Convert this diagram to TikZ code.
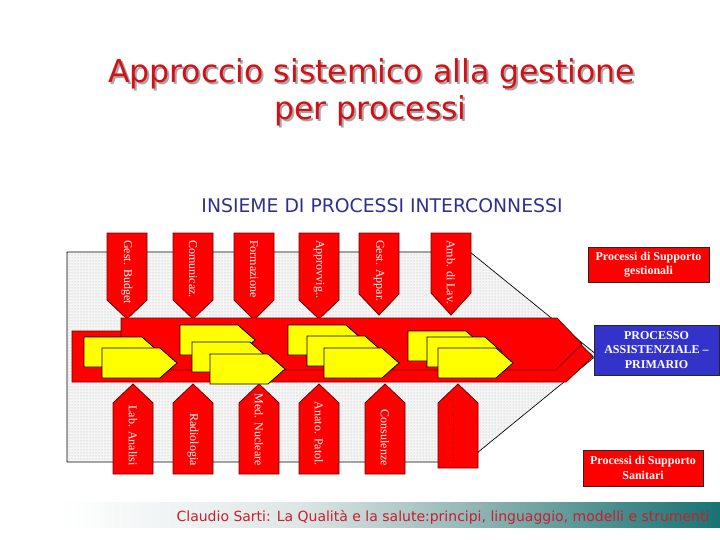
\documentclass[tikz,border=0pt]{standalone}
\usepackage{fontspec}
\setmainfont{Liberation Serif}
\newfontfamily\dejavu{DejaVu Sans}
\usetikzlibrary{patterns}
\definecolor{pred}{RGB}{255,0,0}
\definecolor{pdark}{RGB}{110,0,0}
\definecolor{pyel}{RGB}{255,255,0}
\definecolor{pblue}{RGB}{51,51,204}
\definecolor{titred}{RGB}{210,16,22}
\definecolor{insblue}{RGB}{48,48,140}
\definecolor{footred}{RGB}{200,30,45}
\pgfdeclarehorizontalshading{footshade}{100bp}{color(0bp)=(white); color(25bp)=(white); color(43bp)=(rgb,255:red,222;green,230;blue,230); color(54bp)=(rgb,255:red,160;green,190;blue,190); color(66bp)=(rgb,255:red,80;green,145;blue,145); color(75bp)=(rgb,255:red,25;green,115;blue,115); color(100bp)=(rgb,255:red,25;green,115;blue,115)}
\newcommand\shadowtxt[1]{\makebox[0pt][l]{\hspace{2pt}\raisebox{-2pt}{\textcolor{black!35}{#1}}}#1}
\newcommand\toparr[5]{% name, xl, shoulder, tip, text
  \draw[procred] (#2,233) -- (#2+40,233) -- (#2+40,#3) -- (#2+20,#4) -- (#2,#3) -- cycle;
  \node[arrtext, anchor=west] (#1) at (#2+20,240) {#5};}
\newcommand\botarr[3]{% name, xl, text
  \draw[procred] (#2,474) -- (#2,403) -- (#2+20,384) -- (#2+40,403) -- (#2+40,474) -- cycle;
  \node[arrtext, anchor=east] (#1) at (#2+20,466) {#3};}
\newcommand\yarr[2]{\draw[yelarr] (#1,#2) -- ++(58,0) -- ++(17,15) -- ++(-17,15) -- ++(-58,0) -- cycle;}
\begin{document}
\begin{tikzpicture}[x=1pt,y=-1pt,
  procred/.style={fill=pred, draw=pdark, line width=0.8pt, line join=miter},
  yelarr/.style={fill=pyel, draw=black, line width=0.8pt, line join=miter},
  arrtext/.style={rotate=-90, text=white, font=\fontsize{12}{12}\selectfont, inner sep=0pt},
  sidebox/.style={draw=black!85, line width=0.8pt, text=white, font=\bfseries\fontsize{12}{14.5}\selectfont, align=center, inner sep=0pt},
  titlefont/.style={font=\dejavu\fontsize{31.5}{36}\selectfont, text=titred, anchor=base, inner sep=0pt},
]
\useasboundingbox (0,0) rectangle (720,540);
% title
\node[titlefont] (t1) at (371.5,83) {\shadowtxt{Approccio sistemico alla gestione}};
\node[titlefont] (t2) at (370.5,120) {\shadowtxt{per processi}};
\node[font=\dejavu\fontsize{18.8}{22}\selectfont, text=insblue, anchor=base] (ins) at (382,213) {INSIEME DI PROCESSI INTERCONNESSI};
% dotted background region
\draw[black, line width=0.7pt, fill=gray!8, postaction={pattern=dots, pattern color=gray!60}]
  (67,252) -- (470,252) -- (597,355) -- (466,462) -- (67,462) -- cycle;
% top support arrows
\toparr{gb}{107}{300}{319}{Gest. Budget}
\toparr{com}{173}{300}{319}{Comunicaz.}
\toparr{form}{234}{300}{320}{Formazione}
\toparr{appr}{299}{300}{319}{Approvvig..}
\toparr{ga}{359}{294}{315}{Gest. Appar.}
\toparr{amb}{431}{293}{315}{Amb. di Lav.}
% bottom support arrows
\botarr{lab}{113}{Lab. Analisi}
\botarr{rad}{173}{Radiologia}
\botarr{med}{239}{Med. Nucleare}
\botarr{ana}{299}{Anato. Patol.}
\botarr{cons}{365}{Consulenze}
\draw[procred] (438,468) -- (438,403) -- (458,384) -- (478,403) -- (478,468) -- cycle;
\draw[pdark, dotted, line width=0.8pt] (453,393) -- (453,462);
% main process arrows
\draw[procred] (72,331) -- (567,331) -- (593,356.5) -- (566,382) -- (72,382) -- cycle;
\draw[procred] (121,318) -- (557,318) -- (582,344) -- (556,370) -- (121,370) -- cycle;
% yellow activity arrows
\yarr{84}{337}\yarr{102}{348}
\yarr{180}{325}\yarr{192}{342}\yarr{210}{354}
\yarr{288}{325}\yarr{307}{336}\yarr{324}{348}
\yarr{408}{331}\yarr{427}{337}\yarr{438}{348}
% side labels
\node[sidebox, fill=pred, minimum width=121pt, minimum height=35pt] (sg) at (648.5,264.5) {Processi di Supporto\\gestionali};
\node[sidebox, fill=pblue, minimum width=125pt, minimum height=50pt] (pa) at (656.5,350) {PROCESSO\\ASSISTENZIALE –\\PRIMARIO};
\node[sidebox, fill=pred, minimum width=120pt, minimum height=36pt] (ss) at (643,468) {Processi di Supporto\\Sanitari};
% footer
\shade[shading=footshade] (60,502) rectangle (720,527);
\node[font=\dejavu\fontsize{14}{16}\selectfont, text=footred, anchor=base] (foot) at (443,521) {Claudio Sarti: La Qualità e la salute:principi, linguaggio, modelli e strumenti};
\end{tikzpicture}
\end{document}
